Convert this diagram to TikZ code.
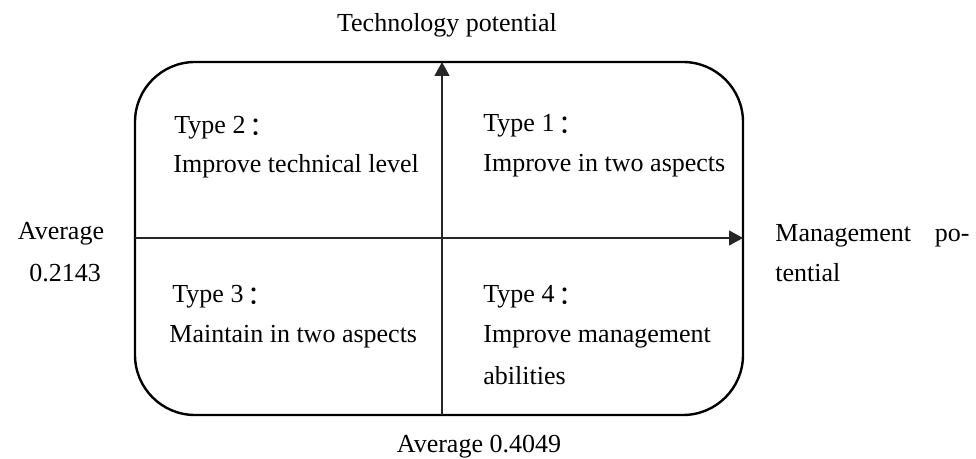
\documentclass[tikz,border=0pt]{standalone}
\usepackage{fontspec}
\setmainfont{Liberation Serif}
\newfontfamily\cjk{Noto Sans CJK SC}
\usetikzlibrary{arrows.meta}
\newcommand{\fcolon}{\hspace{0.15em}{\cjk\raisebox{-0.04em}{：}}}
\begin{document}
\begin{tikzpicture}[x=0.5pt,y=-0.5pt,
  lbl/.style={inner sep=0pt,font=\fontsize{13}{16}\selectfont},
  frame/.style={draw=black,line width=1.2pt,rounded corners=30pt},
  axis/.style={draw=black!85,line width=0.6pt,-{Triangle[length=7pt,width=7.5pt]}}]
\useasboundingbox (0,0) rectangle (976,459);
\draw[frame] (135,62) rectangle (743,415);
\coordinate (vb) at (442,415);
\coordinate (vt) at (442,62);
\coordinate (hl) at (135,238);
\coordinate (hr) at (743,238);
\draw[axis] (vb) -- (vt);
\draw[axis] (hl) -- (hr);
\node[lbl,anchor=base] (tp) at (447,32) {Technology potential};
\node[lbl,anchor=base] (av2) at (479,453) {Average 0.4049};
\node[lbl,anchor=base] (av1a) at (61,240) {Average};
\node[lbl,anchor=base] (av1b) at (65,282) {0.2143};
\node[lbl,anchor=base west] (mp1) at (775,242) {Management};
\node[lbl,anchor=base east] (mp2) at (970,242) {po-};
\node[lbl,anchor=base west] (mp3) at (775,282) {tential};
\node[lbl,anchor=base west] (t2a) at (174,134) {Type 2\fcolon};
\node[lbl,anchor=base west] (t2b) at (173,173) {Improve technical level};
\node[lbl,anchor=base west] (t1a) at (483,132) {Type 1\fcolon};
\node[lbl,anchor=base west] (t1b) at (483,172) {Improve in two aspects};
\node[lbl,anchor=base west] (t3a) at (172,303) {Type 3\fcolon};
\node[lbl,anchor=base west] (t3b) at (169,343) {Maintain in two aspects};
\node[lbl,anchor=base west] (t4a) at (483,303) {Type 4\fcolon};
\node[lbl,anchor=base west] (t4b) at (483,343) {Improve management};
\node[lbl,anchor=base west] (t4c) at (483,385) {abilities};
\end{tikzpicture}
\end{document}
